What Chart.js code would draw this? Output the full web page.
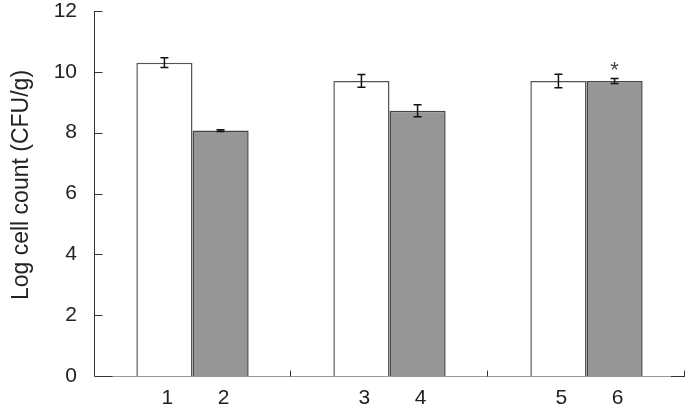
<!DOCTYPE html>
<html>
<head>
<meta charset="utf-8">
<script src="https://cdn.jsdelivr.net/npm/chart.js@4/dist/chart.umd.min.js"></script>
<style>
  html, body { margin: 0; padding: 0; background: #fff; }
  canvas { display: block; }
</style>
</head>
<body>
<canvas id="chart" width="689" height="408"></canvas>
<script>
const groups = ['A', 'B', 'C'];
const openLabels = ['1', '3', '5'];
const openValues = [10.3, 9.7, 9.7];
const openErrors = [0.16, 0.21, 0.22];
const shadedLabels = ['2', '4', '6'];
const shadedValues = [8.07, 8.72, 9.7];
const shadedErrors = [0.03, 0.2, 0.08];
const shadedMarks = ['', '', '*'];
const yTitle = 'Log cell count (CFU/g)';

const FONT = '"Liberation Sans", Arial, sans-serif';
const INK = '#222';

// axes, error bars, bar numbers and the asterisk
const extras = {
    id: 'extras',
    afterDatasetsDraw(chart) {
        const { ctx, chartArea: a, scales: { x, y } } = chart;
        ctx.save();

        // error bars
        ctx.strokeStyle = '#111';
        ctx.lineWidth = 1.5;
        const errs = [openErrors, shadedErrors];
        const vals = [openValues, shadedValues];
        chart.data.datasets.forEach((ds, di) => {
            chart.getDatasetMeta(di).data.forEach((bar, i) => {
                const top = y.getPixelForValue(vals[di][i] + errs[di][i]);
                const bot = y.getPixelForValue(vals[di][i] - errs[di][i]);
                ctx.beginPath();
                ctx.moveTo(bar.x, top); ctx.lineTo(bar.x, bot);
                ctx.moveTo(bar.x - 4, top); ctx.lineTo(bar.x + 4, top);
                ctx.moveTo(bar.x - 4, bot); ctx.lineTo(bar.x + 4, bot);
                ctx.stroke();
            });
        });

        // asterisk marks
        ctx.fillStyle = '#444';
        ctx.font = '22px ' + FONT;
        ctx.textAlign = 'center';
        ctx.textBaseline = 'alphabetic';
        chart.getDatasetMeta(1).data.forEach((bar, i) => {
            if (!shadedMarks[i]) return;
            const top = y.getPixelForValue(shadedValues[i] + shadedErrors[i]);
            ctx.fillText(shadedMarks[i], bar.x, top - 2);
        });

        // y axis with inward ticks
        const left = Math.round(a.left) + 0.5;
        ctx.strokeStyle = '#333';
        ctx.lineWidth = 1;
        ctx.beginPath();
        ctx.moveTo(left, a.top); ctx.lineTo(left, a.bottom);
        y.ticks.forEach(t => {
            const py = Math.round(y.getPixelForValue(t.value)) + 0.5;
            ctx.moveTo(left, py); ctx.lineTo(left + 8, py);
        });
        ctx.stroke();

        // x axis with inward ticks at group boundaries
        const base = Math.round(a.bottom) + 0.5;
        ctx.strokeStyle = '#999';
        ctx.beginPath();
        ctx.moveTo(a.left, base); ctx.lineTo(a.right, base);
        ctx.stroke();
        ctx.strokeStyle = '#333';
        ctx.beginPath();
        ctx.moveTo(left, base); ctx.lineTo(left + 18, base);
        ctx.moveTo(a.right - 14, base); ctx.lineTo(a.right, base);
        const half = (x.getPixelForValue(1) - x.getPixelForValue(0)) / 2;
        groups.forEach((g, i) => {
            const px = Math.round(x.getPixelForValue(i) + half) - 0.5;
            ctx.moveTo(px, base); ctx.lineTo(px, base - 6);
        });
        ctx.stroke();

        // bar numbers under the axis
        ctx.fillStyle = INK;
        ctx.font = '21px ' + FONT;
        ctx.textBaseline = 'middle';
        const names = [openLabels, shadedLabels];
        chart.data.datasets.forEach((ds, di) => {
            chart.getDatasetMeta(di).data.forEach((bar, i) => {
                ctx.fillText(names[di][i], bar.x + 3, 398);
            });
        });

        // y axis title
        ctx.translate(22, 185);
        ctx.rotate(-Math.PI / 2);
        ctx.font = '23px ' + FONT;
        ctx.fillText(yTitle, 0, 0);

        ctx.restore();
    }
};

new Chart(document.getElementById('chart'), {
    type: 'bar',
    data: {
        labels: groups,
        datasets: [
            {
                data: openValues,
                backgroundColor: '#ffffff',
                borderColor: '#555',
                borderWidth: 1.5,
                barPercentage: 1,
                categoryPercentage: 0.57,
            },
            {
                data: shadedValues,
                backgroundColor: '#969696',
                borderColor: '#444',
                borderWidth: 1.5,
                barPercentage: 1,
                categoryPercentage: 0.57,
            },
        ],
    },
    options: {
        responsive: false,
        animation: false,
        layout: { padding: { top: 11, right: 4, left: 0, bottom: 0 } },
        plugins: { legend: { display: false }, tooltip: { enabled: false } },
        scales: {
            x: {
                grid: { display: false, drawTicks: false },
                border: { display: false },
                ticks: { display: false },
                afterFit: s => { s.height = 32; s.paddingLeft = 0; s.paddingRight = 0; },
            },
            y: {
                min: 0,
                max: 12,
                grid: { display: false, drawTicks: false },
                border: { display: false },
                ticks: {
                    stepSize: 2,
                    padding: 17,
                    color: INK,
                    font: { family: FONT, size: 21 },
                },
                afterFit: s => { s.width = 94; s.paddingTop = 0; s.paddingBottom = 0; },
            },
        },
    },
    plugins: [extras],
});
</script>
</body>
</html>
